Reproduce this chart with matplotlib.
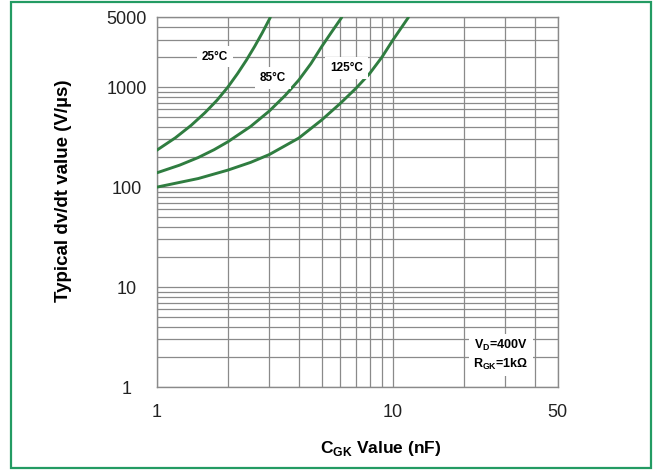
import matplotlib
matplotlib.use("Agg")
import matplotlib.pyplot as plt
from matplotlib.patches import Rectangle

# --- data ---
x_25 = [1.0, 1.2, 1.4, 1.6, 1.8, 2.0, 2.2, 2.4, 2.6, 2.8, 3.03]
y_25 = [234, 312, 416, 555, 740, 1000, 1368, 1870, 2560, 3500, 5000]
x_85 = [1.0, 1.25, 1.5, 1.75, 2.0, 2.5, 3.0, 3.5, 4.0, 4.5, 5.0, 5.5, 6.08]
y_85 = [139, 166, 198, 237, 284, 405, 578, 826, 1180, 1720, 2550, 3550, 5000]
x_125 = [1.0, 1.5, 2.0, 2.5, 3.0, 4.0, 5.0, 6.0, 7.0, 8.0, 9.0, 10.0, 11.0, 11.65]
y_125 = [100, 122, 148, 177, 212, 310, 470, 690, 980, 1380, 2000, 2950, 4100, 5000]
curve_labels = ["25°C", "85°C", "125°C"]
x_ticks = [1, 10, 50]
y_ticks = [1, 10, 100, 1000, 5000]

fig = plt.figure(figsize=(6.59, 4.70), dpi=100)
fig.patches.append(Rectangle((10.5/659, 1 - 468/470), 640/659, 466/470,
                             transform=fig.transFigure, fill=False,
                             edgecolor="#239b63", linewidth=1.6))
ax = fig.add_axes([156.7/659, 1 - 387/470, 401/659, 369.6/470])
ax.set_xscale("log")
ax.set_yscale("log")
ax.set_xlim(1, 50)
ax.set_ylim(1, 5000)

gc = "#8a8a8a"
ax.grid(True, which="both", color=gc, linewidth=0.9)
for s in ax.spines.values():
    s.set_color(gc)
    s.set_linewidth(1.0)
ax.tick_params(which="both", length=0)
tick_font = "Liberation Sans"
ax.set_xticks(x_ticks)
ax.set_xticklabels([str(v) for v in x_ticks], fontfamily=tick_font, fontsize=13, color="#222222")
ax.set_yticks(y_ticks)
ax.set_yticklabels([str(v) for v in y_ticks], fontfamily=tick_font, fontsize=13, color="#222222")
for lab in ax.get_yticklabels():
    lab.set_horizontalalignment("center")
ax.tick_params(axis="x", pad=12)
ax.tick_params(axis="y", pad=21.4)

lc = "#2f7d40"
for xs, ys in [(x_25, y_25), (x_85, y_85), (x_125, y_125)]:
    ax.plot(xs, ys, color=lc, linewidth=2.1, solid_capstyle="round",
            solid_joinstyle="round", zorder=3)

bbox = dict(facecolor="white", edgecolor="none", pad=3.5)
lab_font = dict(fontsize=8.5, fontweight="bold", fontfamily="Liberation Sans",
                ha="center", va="center", bbox=bbox, zorder=4)
ax.text(1.77, 2030, curve_labels[0], **lab_font)
ax.text(3.10, 1230, curve_labels[1], **lab_font)
ax.text(6.38, 1553, curve_labels[2], **lab_font)

ax.text(28.8, 2.09, "V$_{\\mathregular{D}}$=400V\nR$_{\\mathregular{GK}}$=1kΩ", fontsize=9,
        fontweight="bold", fontfamily="Liberation Sans", ha="center", va="center",
        linespacing=1.4, bbox=dict(facecolor="white", edgecolor="none", pad=3), zorder=4)

fig.text(63/659, 1 - 190.5/470, "Typical dv/dt value (V/µs)", fontsize=13.5, fontweight="bold",
         fontfamily="Liberation Sans", rotation=90, ha="center", va="center")
fig.text(381/659, 1 - 448/470, "C$_{\\mathregular{GK}}$ Value (nF)", fontsize=12.5, fontweight="bold",
         fontfamily="Liberation Sans", ha="center", va="center")

fig.savefig("out.png", dpi=100)
